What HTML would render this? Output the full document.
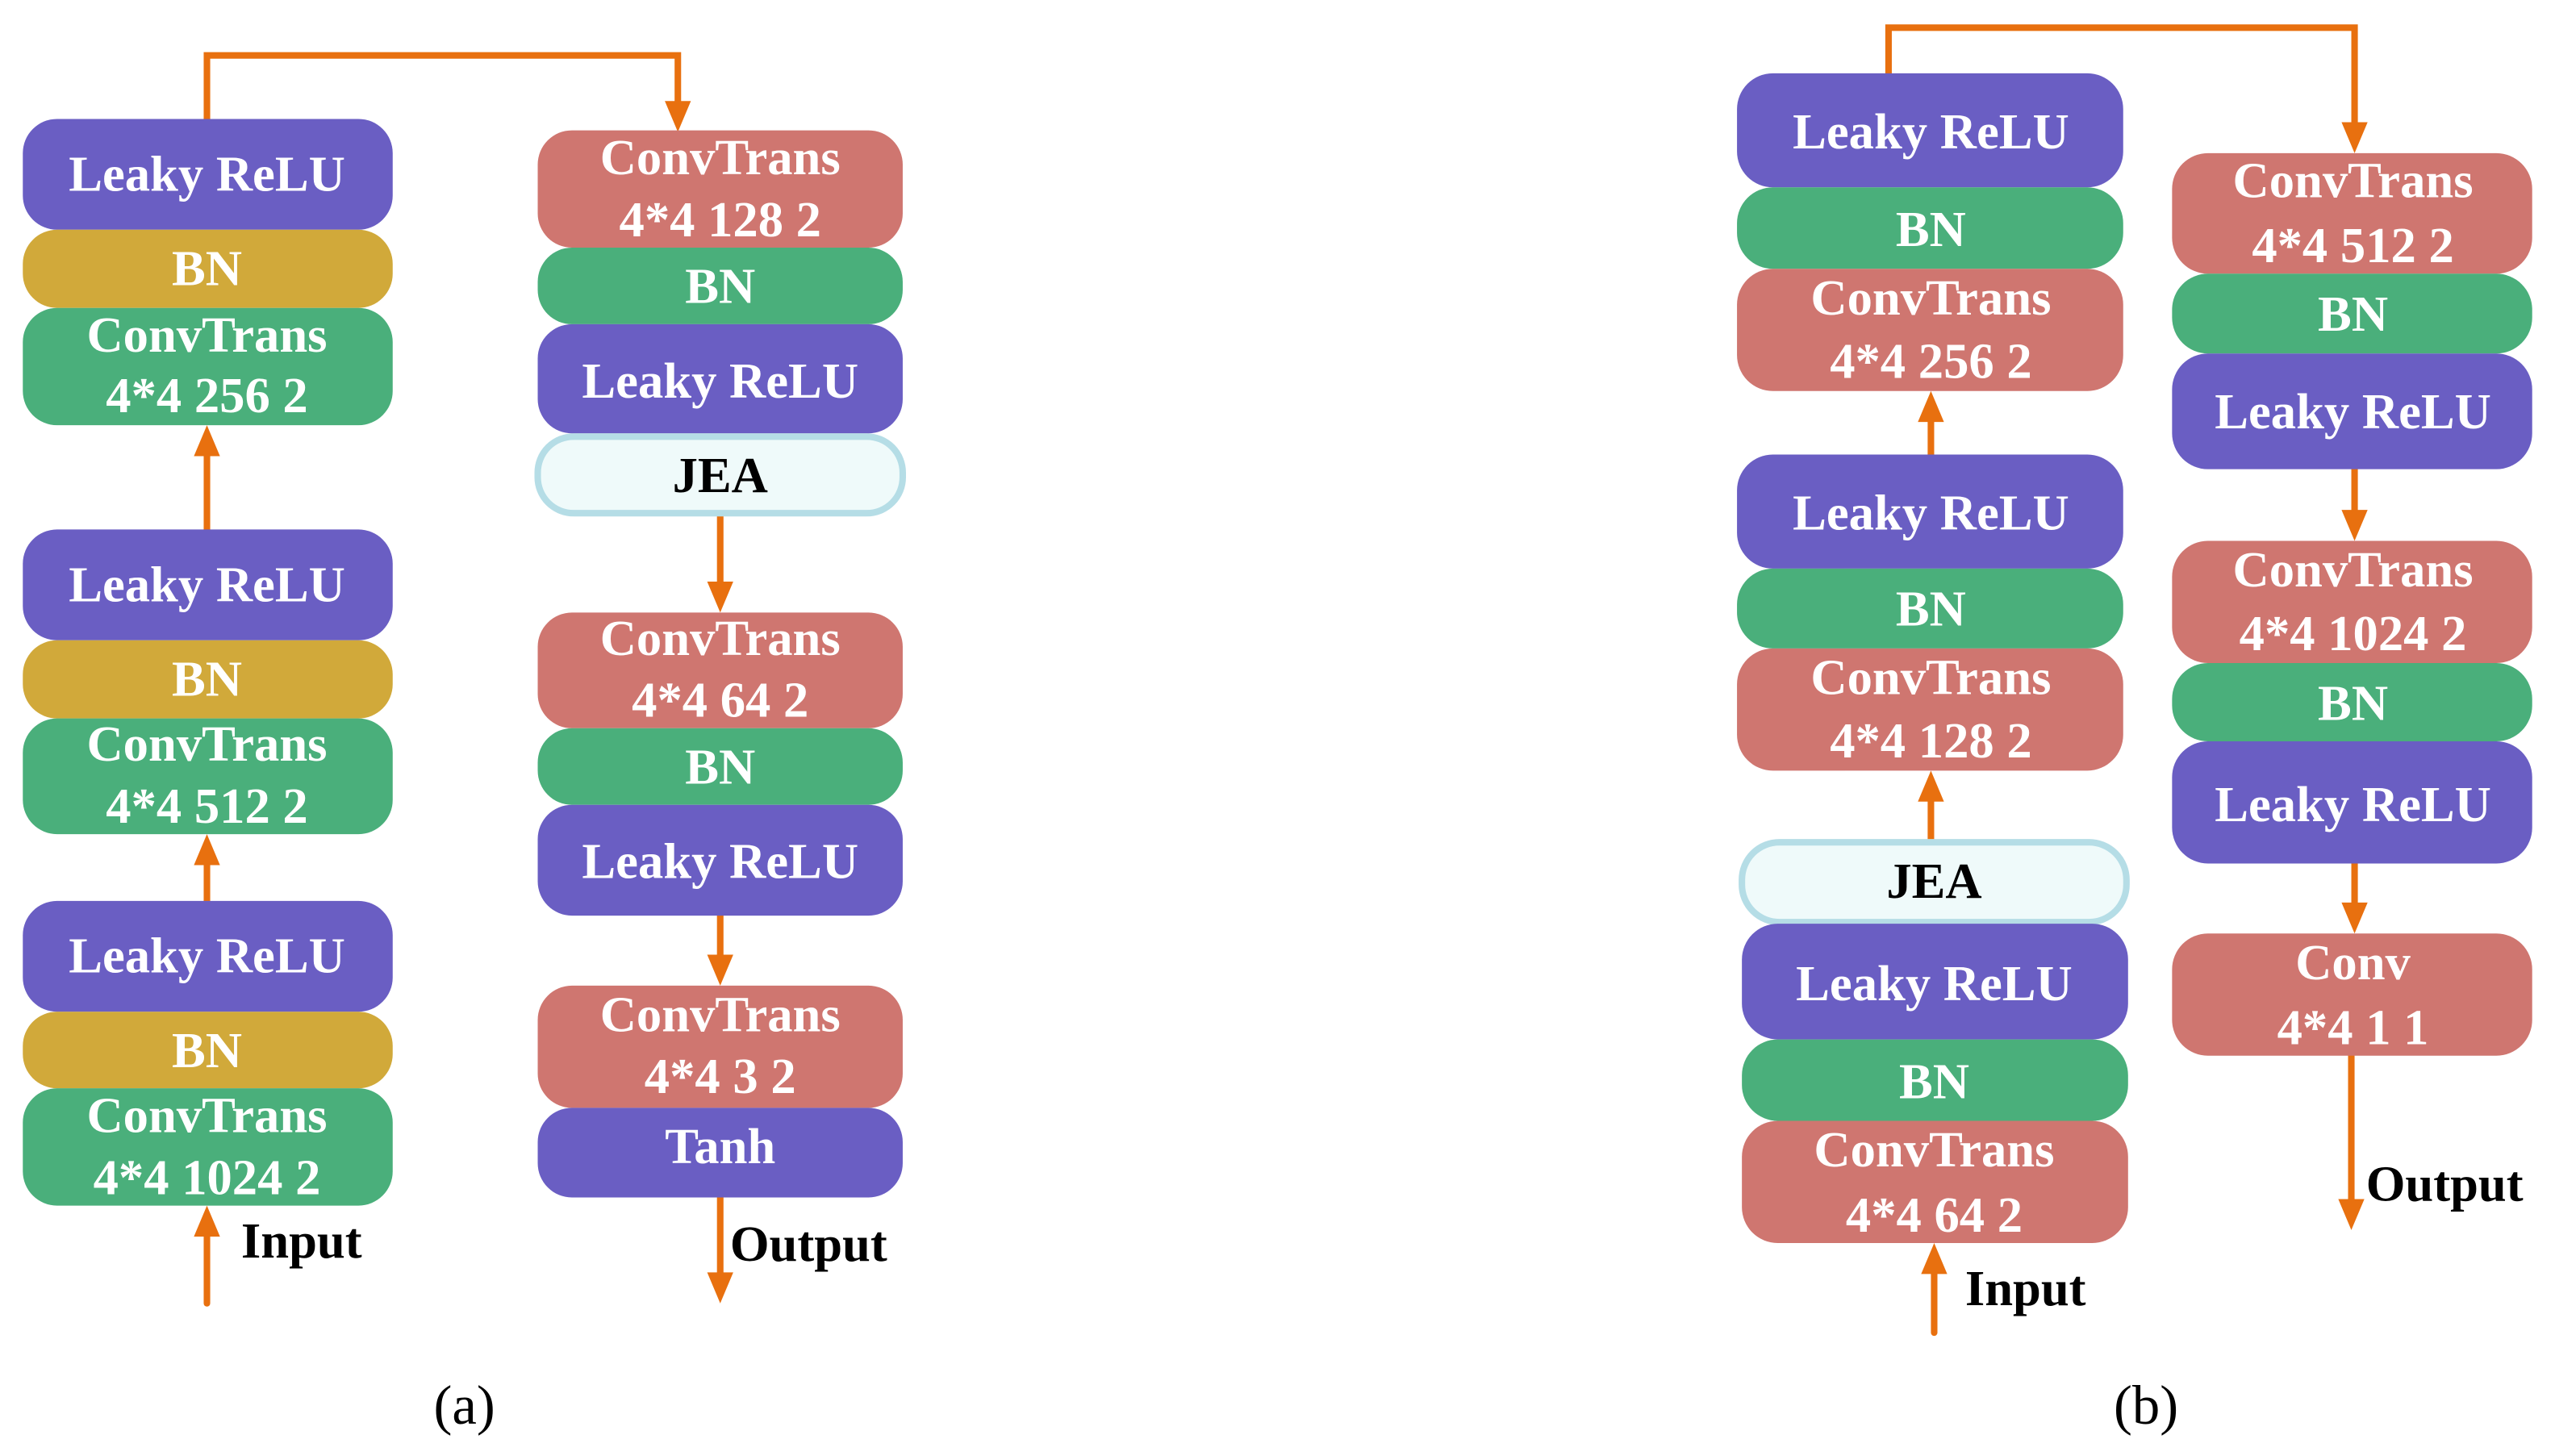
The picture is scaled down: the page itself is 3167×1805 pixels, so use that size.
<!DOCTYPE html>
<html><head><meta charset="utf-8"><style>
html,body{margin:0;padding:0;background:#fff;}
svg{display:block;}
text{font-family:"Liberation Serif","Tinos","Times New Roman",serif;font-weight:bold;}
.w{fill:#fff;font-size:31px;}
.k{fill:#000;font-size:31px;}
</style></head><body>
<svg width="3167" height="1805" viewBox="0 0 1568 893.7" preserveAspectRatio="none" xmlns="http://www.w3.org/2000/svg">
<g stroke="#E8700F" stroke-width="4" fill="none" stroke-linecap="round">
<path d="M127 73 V34 H416 V70"/>
<path d="M127 325 V272"/>
<path d="M127 553 V522"/>
<path d="M127 800 V750"/>
<path d="M442 316 V366"/>
<path d="M442 562 V595"/>
<path d="M442 735 V790"/>
<path d="M1159 45 V17 H1445 V84"/>
<path d="M1185 279 V250"/>
<path d="M1185 515 V483"/>
<path d="M1187 818 V773"/>
<path d="M1445 288 V322"/>
<path d="M1445 530 V563"/>
<path d="M1443 648 V745"/>
</g>
<g fill="#E8700F">
<polygon points="408,62 424,62 416,81"/>
<polygon points="119,280 135,280 127,261"/>
<polygon points="119,531 135,531 127,512"/>
<polygon points="119,759 135,759 127,740"/>
<polygon points="434,357 450,357 442,376"/>
<polygon points="434,586 450,586 442,605"/>
<polygon points="434,781 450,781 442,800"/>
<polygon points="1437,75 1453,75 1445,94"/>
<polygon points="1177,259 1193,259 1185,240"/>
<polygon points="1177,492 1193,492 1185,473"/>
<polygon points="1179,782 1195,782 1187,763"/>
<polygon points="1437,313 1453,313 1445,332"/>
<polygon points="1437,554 1453,554 1445,573"/>
<polygon points="1435,736 1451,736 1443,755"/>
</g>

<rect x="14" y="73" width="227" height="68" rx="21" fill="#6A5EC3"/>
<rect x="14" y="141" width="227" height="48" rx="21" fill="#D1A93A"/>
<rect x="14" y="189" width="227" height="72" rx="21" fill="#4AAF7B"/>
<text class="w" x="127" y="117" text-anchor="middle">Leaky ReLU</text>
<text class="w" x="127" y="175" text-anchor="middle">BN</text>
<text class="w" x="127" y="216" text-anchor="middle">ConvTrans</text>
<text class="w" x="127" y="253" text-anchor="middle">4*4 256 2</text>

<rect x="14" y="325" width="227" height="68" rx="21" fill="#6A5EC3"/>
<rect x="14" y="393" width="227" height="48" rx="21" fill="#D1A93A"/>
<rect x="14" y="441" width="227" height="71" rx="21" fill="#4AAF7B"/>
<text class="w" x="127" y="369" text-anchor="middle">Leaky ReLU</text>
<text class="w" x="127" y="427" text-anchor="middle">BN</text>
<text class="w" x="127" y="467" text-anchor="middle">ConvTrans</text>
<text class="w" x="127" y="505" text-anchor="middle">4*4 512 2</text>

<rect x="14" y="553" width="227" height="68" rx="21" fill="#6A5EC3"/>
<rect x="14" y="621" width="227" height="47" rx="21" fill="#D1A93A"/>
<rect x="14" y="668" width="227" height="72" rx="21" fill="#4AAF7B"/>
<text class="w" x="127" y="597" text-anchor="middle">Leaky ReLU</text>
<text class="w" x="127" y="655" text-anchor="middle">BN</text>
<text class="w" x="127" y="695" text-anchor="middle">ConvTrans</text>
<text class="w" x="127" y="733" text-anchor="middle">4*4 1024 2</text>
<text class="k" x="148" y="772">Input</text>

<rect x="330" y="80" width="224" height="72" rx="21" fill="#CF7670"/>
<rect x="330" y="152" width="224" height="47" rx="21" fill="#4AAF7B"/>
<rect x="330" y="199" width="224" height="67" rx="21" fill="#6A5EC3"/>
<rect x="330" y="268" width="224" height="47" rx="22" fill="#EFFAFA" stroke="#B5DDE6" stroke-width="4"/>
<text class="w" x="442" y="107" text-anchor="middle">ConvTrans</text>
<text class="w" x="442" y="145" text-anchor="middle">4*4 128 2</text>
<text class="w" x="442" y="186" text-anchor="middle">BN</text>
<text class="w" x="442" y="244" text-anchor="middle">Leaky ReLU</text>
<text class="k" x="442" y="302" text-anchor="middle">JEA</text>

<rect x="330" y="376" width="224" height="71" rx="21" fill="#CF7670"/>
<rect x="330" y="447" width="224" height="47" rx="21" fill="#4AAF7B"/>
<rect x="330" y="494" width="224" height="68" rx="21" fill="#6A5EC3"/>
<text class="w" x="442" y="402" text-anchor="middle">ConvTrans</text>
<text class="w" x="442" y="440" text-anchor="middle">4*4 64 2</text>
<text class="w" x="442" y="481" text-anchor="middle">BN</text>
<text class="w" x="442" y="539" text-anchor="middle">Leaky ReLU</text>

<rect x="330" y="605" width="224" height="75" rx="21" fill="#CF7670"/>
<rect x="330" y="680" width="224" height="55" rx="21" fill="#6A5EC3"/>
<text class="w" x="442" y="633" text-anchor="middle">ConvTrans</text>
<text class="w" x="442" y="671" text-anchor="middle">4*4 3 2</text>
<text class="w" x="442" y="714" text-anchor="middle">Tanh</text>
<text class="k" x="448" y="774">Output</text>

<text x="285" y="874" text-anchor="middle" style="font-weight:normal;font-size:34px;fill:#000">(a)</text>

<rect x="1066" y="45" width="237" height="70" rx="22" fill="#6A5EC3"/>
<rect x="1066" y="115" width="237" height="50" rx="22" fill="#4AAF7B"/>
<rect x="1066" y="165" width="237" height="75" rx="22" fill="#CF7670"/>
<text class="w" x="1185" y="91" text-anchor="middle">Leaky ReLU</text>
<text class="w" x="1185" y="151" text-anchor="middle">BN</text>
<text class="w" x="1185" y="193" text-anchor="middle">ConvTrans</text>
<text class="w" x="1185" y="232" text-anchor="middle">4*4 256 2</text>

<rect x="1066" y="279" width="237" height="70" rx="22" fill="#6A5EC3"/>
<rect x="1066" y="349" width="237" height="49" rx="22" fill="#4AAF7B"/>
<rect x="1066" y="398" width="237" height="75" rx="22" fill="#CF7670"/>
<text class="w" x="1185" y="325" text-anchor="middle">Leaky ReLU</text>
<text class="w" x="1185" y="384" text-anchor="middle">BN</text>
<text class="w" x="1185" y="426" text-anchor="middle">ConvTrans</text>
<text class="w" x="1185" y="465" text-anchor="middle">4*4 128 2</text>

<rect x="1069" y="517" width="236" height="49" rx="23" fill="#EFFAFA" stroke="#B5DDE6" stroke-width="4"/>
<rect x="1069" y="567" width="237" height="71" rx="22" fill="#6A5EC3"/>
<rect x="1069" y="638" width="237" height="50" rx="22" fill="#4AAF7B"/>
<rect x="1069" y="688" width="237" height="75" rx="22" fill="#CF7670"/>
<text class="k" x="1187" y="551" text-anchor="middle">JEA</text>
<text class="w" x="1187" y="614" text-anchor="middle">Leaky ReLU</text>
<text class="w" x="1187" y="674" text-anchor="middle">BN</text>
<text class="w" x="1187" y="716" text-anchor="middle">ConvTrans</text>
<text class="w" x="1187" y="756" text-anchor="middle">4*4 64 2</text>
<text class="k" x="1206" y="801">Input</text>

<rect x="1333" y="94" width="221" height="74" rx="22" fill="#CF7670"/>
<rect x="1333" y="168" width="221" height="49" rx="22" fill="#4AAF7B"/>
<rect x="1333" y="217" width="221" height="71" rx="22" fill="#6A5EC3"/>
<text class="w" x="1444" y="121" text-anchor="middle">ConvTrans</text>
<text class="w" x="1444" y="161" text-anchor="middle">4*4 512 2</text>
<text class="w" x="1444" y="203" text-anchor="middle">BN</text>
<text class="w" x="1444" y="263" text-anchor="middle">Leaky ReLU</text>

<rect x="1333" y="332" width="221" height="75" rx="22" fill="#CF7670"/>
<rect x="1333" y="407" width="221" height="48" rx="22" fill="#4AAF7B"/>
<rect x="1333" y="455" width="221" height="75" rx="22" fill="#6A5EC3"/>
<text class="w" x="1444" y="360" text-anchor="middle">ConvTrans</text>
<text class="w" x="1444" y="399" text-anchor="middle">4*4 1024 2</text>
<text class="w" x="1444" y="442" text-anchor="middle">BN</text>
<text class="w" x="1444" y="504" text-anchor="middle">Leaky ReLU</text>

<rect x="1333" y="573" width="221" height="75" rx="22" fill="#CF7670"/>
<text class="w" x="1444" y="601" text-anchor="middle">Conv</text>
<text class="w" x="1444" y="641" text-anchor="middle">4*4 1 1</text>
<text class="k" x="1452" y="737">Output</text>

<text x="1317" y="874" text-anchor="middle" style="font-weight:normal;font-size:34px;fill:#000">(b)</text>
</svg>
</body></html>
